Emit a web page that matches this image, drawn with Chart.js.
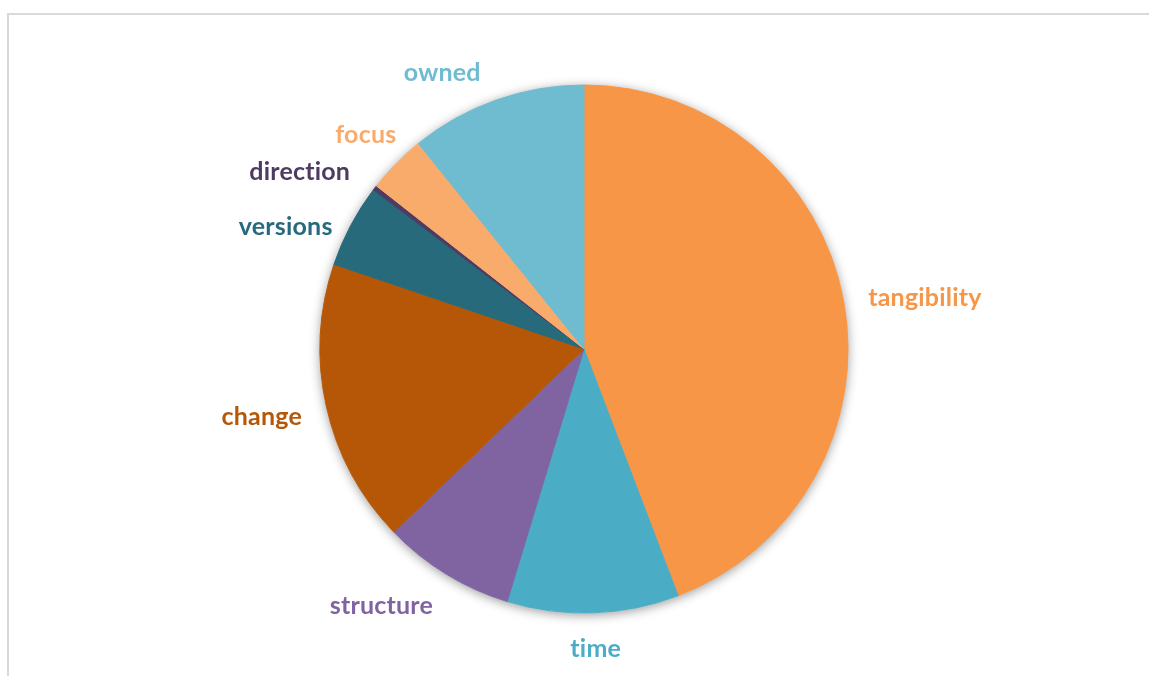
<!DOCTYPE html>
<html>
<head>
<meta charset="utf-8">
<script src="https://cdn.jsdelivr.net/npm/chart.js@4"></script>
<style>
  html, body { margin: 0; padding: 0; background: #fff; overflow: hidden; }
  #frame { position: absolute; left: 7px; top: 13px; width: 1200px; height: 720px; border: 2px solid #d9d9d9; box-sizing: border-box; }
  #pie { position: absolute; left: 0; top: 0; }
</style>
</head>
<body>
<div id="frame"></div>
<canvas id="pie" width="1149" height="676"></canvas>
<script>
// slices, clockwise from twelve o'clock
const categories = ["tangibility", "time", "structure", "change", "versions", "direction", "focus", "owned"];
const shares = [44.2, 10.5, 8.1, 17.4, 5.1, 0.3, 3.6, 10.8];
const sliceColors = ["#F79646", "#4BACC6", "#8064A2", "#B65708", "#276A7C", "#4D3B62", "#F9AB6B", "#6FBCD1"];
// small shifts for labels that would otherwise crowd each other
const labelNudge = [[0, 5], [0, 0], [0, 0], [0, 0], [4, 23], [-5, 10], [18, 0], [-20, 7]];

// soft drop shadow behind the whole pie
const pieShadow = {
  id: "pieShadow",
  beforeDatasetsDraw(chart) {
    const arc = chart.getDatasetMeta(0).data[0];
    if (!arc) return;
    const { x, y, outerRadius } = arc.getProps(["x", "y", "outerRadius"], true);
    const ctx = chart.ctx;
    ctx.save();
    ctx.shadowColor = "rgba(0,0,0,0.4)";
    ctx.shadowBlur = 11;
    ctx.shadowOffsetY = 2;
    ctx.beginPath();
    ctx.arc(x, y, outerRadius, 0, Math.PI * 2);
    ctx.fillStyle = "#fff";
    ctx.fill();
    ctx.restore();
  }
};

// category names outside each slice, in the slice colour
const outsideLabels = {
  id: "outsideLabels",
  afterDatasetsDraw(chart) {
    const ctx = chart.ctx;
    ctx.save();
    ctx.font = "bold 25px Lato";
    // tiny spacing keeps the "ti" pair from turning into a ligature
    ctx.letterSpacing = "0.2px";
    ctx.textAlign = "center";
    ctx.textBaseline = "middle";
    chart.getDatasetMeta(0).data.forEach((arc, i) => {
      const { x, y, startAngle, endAngle, outerRadius } =
        arc.getProps(["x", "y", "startAngle", "endAngle", "outerRadius"], true);
      const mid = (startAngle + endAngle) / 2;
      const ux = Math.cos(mid), uy = Math.sin(mid);
      const px = x + ux * (outerRadius + 25);
      const py = y + uy * (outerRadius + 25);
      const w = ctx.measureText(categories[i]).width;
      const h = 22;
      const sx = Math.max(-1, Math.min(1, ux * 2));
      const sy = Math.max(-1, Math.min(1, uy * 2));
      ctx.fillStyle = sliceColors[i];
      ctx.fillText(categories[i], px + sx * w / 2 + labelNudge[i][0], py + sy * h / 2 + labelNudge[i][1]);
    });
    ctx.restore();
  }
};

new Chart(document.getElementById("pie"), {
  type: "pie",
  data: {
    labels: categories,
    datasets: [{
      data: shares,
      backgroundColor: sliceColors,
      borderColor: sliceColors,
      borderWidth: 1
    }]
  },
  options: {
    responsive: false,
    animation: false,
    radius: 264,
    layout: { padding: { left: 19, top: 22 } },
    plugins: {
      legend: { display: false },
      tooltip: { enabled: false }
    }
  },
  plugins: [pieShadow, outsideLabels]
});
</script>
</body>
</html>
